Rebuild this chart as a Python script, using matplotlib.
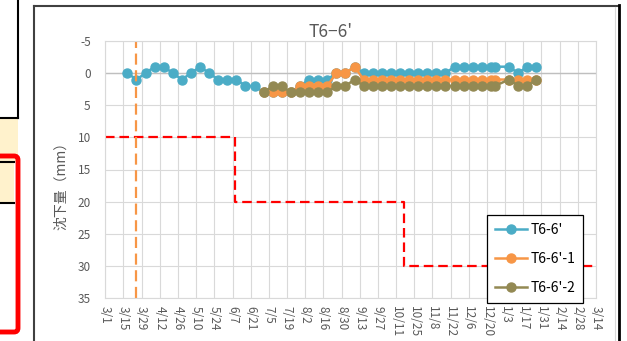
import matplotlib.pyplot as plt
from matplotlib.patches import Rectangle, FancyBboxPatch
import numpy as np
import pandas as pd

plt.rcParams['font.family'] = ['Noto Sans CJK JP', 'DejaVu Sans']
plt.rcParams['axes.unicode_minus'] = False

# measurement dates
dates = pd.to_datetime([
    '2021-03-18', '2021-03-25', '2021-04-01', '2021-04-08', '2021-04-15', '2021-04-22',
    '2021-04-29', '2021-05-06', '2021-05-13', '2021-05-20', '2021-05-27', '2021-06-03',
    '2021-06-10', '2021-06-17', '2021-06-24', '2021-07-01', '2021-07-08', '2021-07-15',
    '2021-07-22', '2021-07-29', '2021-08-05', '2021-08-12', '2021-08-19', '2021-08-26',
    '2021-09-02', '2021-09-09', '2021-09-16', '2021-09-23', '2021-09-30', '2021-10-07',
    '2021-10-14', '2021-10-21', '2021-10-28', '2021-11-04', '2021-11-11', '2021-11-18',
    '2021-11-25', '2021-12-02', '2021-12-09', '2021-12-16', '2021-12-23', '2021-12-26',
    '2022-01-06', '2022-01-13', '2022-01-20', '2022-01-27',
])

# settlement (mm), positive = downward
t66 = [0, 1, 0, -1, -1, 0, 1, 0, -1, 0, 1, 1,
       1, 2, 2, 3, 3, 3, 3, 2, 1, 1, 1, 0,
       0, -1, 0, 0, 0, 0, 0, 0, 0, 0, 0, 0,
       -1, -1, -1, -1, -1, -1, -1, 0, -1, -1]
t66_1 = [None, None, None, None, None, None, None, None, None, None, None, None,
         None, None, None, 3, 3, 3, 3, 2, 2, 2, 2, 0,
         0, -1, 1, 1, 1, 1, 1, 1, 1, 1, 1, 1,
         1, 1, 1, 1, 1, 1, 1, 1, 1, 1]
t66_2 = [None, None, None, None, None, None, None, None, None, None, None, None,
         None, None, None, 3, 2, 2, 3, 3, 3, 3, 3, 2,
         2, 1, 2, 2, 2, 2, 2, 2, 2, 2, 2, 2,
         2, 2, 2, 2, 2, 2, 1, 2, 2, 1]

# management limit steps
limit_dates = pd.to_datetime(['2021-03-01', '2021-06-09', '2021-06-09',
                              '2021-10-17', '2021-10-17', '2022-03-14'])
limit_values = [10, 10, 20, 20, 30, 30]

start_date = pd.Timestamp('2021-03-25')

tick_labels = ['3/1', '3/15', '3/29', '4/12', '4/26', '5/10', '5/24', '6/7',
               '6/21', '7/5', '7/19', '8/2', '8/16', '8/30', '9/13', '9/27',
               '10/11', '10/25', '11/8', '11/22', '12/6', '12/20', '1/3', '1/17',
               '1/31', '2/14', '2/28', '3/14']

W, H = 627, 341
fig = plt.figure(figsize=(W / 100, H / 100), dpi=100)

# sheet background (cells, frame) in pixel coordinates
bg = fig.add_axes([0, 0, 1, 1])
bg.set_xlim(0, W)
bg.set_ylim(H, 0)
bg.axis('off')
bg.add_patch(Rectangle((0, 118), 17.5, 44, facecolor='#FFF2CC', edgecolor='none'))
bg.add_patch(Rectangle((0, 162), 14, 41, facecolor='#FFF2CC', edgecolor='none'))
bg.plot([17.5, 17.5], [0, 118], color='black', lw=1.5)
bg.plot([0, 18], [118, 118], color='black', lw=1.5)
bg.plot([0, 14], [162, 162], color='black', lw=1.5)
bg.plot([0, 14], [203, 203], color='black', lw=1.5)
bg.add_patch(FancyBboxPatch((-20, 156), 38, 176, boxstyle='round,pad=0,rounding_size=4',
                            facecolor='none', edgecolor='#FF0000', lw=3.5))
bg.add_patch(Rectangle((33.5, 5.5), 584, 340, facecolor='white', edgecolor='none'))
bg.plot([33.5, 33.5], [5.5, H], color='#404040', lw=1.5)
bg.plot([33.5, 618], [5.5, 5.5], color='#404040', lw=1.5)
bg.plot([615, 615], [6.5, H], color='#D9D9D9', lw=0.8)
bg.plot([618.5, 618.5], [4.8, H], color='black', lw=2)

ax = fig.add_axes([105.3 / W, 43 / H, 490.7 / W, 257 / H])
ax.patch.set_visible(False)

t66 = np.array(t66, dtype=float)
t66_1 = np.array(t66_1, dtype=float)
t66_2 = np.array(t66_2, dtype=float)

ax.plot(dates, t66, color='#4BACC6', marker='o', ms=6.5, lw=1.8, label="T6-6'")
ax.plot(dates, t66_1, color='#F79646', marker='o', ms=6.5, lw=1.8, label="T6-6'-1")
ax.plot(dates, t66_2, color='#938953', marker='o', ms=6.5, lw=1.8, label="T6-6'-2")

ax.plot(limit_dates, limit_values, color='#FF0000', lw=1.6, ls=(0, (4.3, 2.2)))
ax.axvline(start_date, color='#F79646', lw=1.6, ls=(0, (5, 2.5)))

ax.axhline(0, color='#BFBFBF', lw=1, zorder=1)

ax.set_ylim(35, -5)
ax.set_yticks(np.arange(-5, 40, 5))
ticks = pd.date_range('2021-03-01', '2022-03-14', freq='14D')
ax.set_xlim(ticks[0], ticks[-1])
ax.set_xticks(ticks)
ax.set_xticklabels(tick_labels)

ax.grid(color='#D9D9D9', lw=0.8)
ax.set_axisbelow(True)
for s in ax.spines.values():
    s.set_color('#D9D9D9')
    s.set_linewidth(0.8)

ax.tick_params(axis='both', length=0, labelsize=8.5, labelcolor='#595959')
ax.tick_params(axis='y', pad=10.5)
ax.tick_params(axis='x', pad=5.8, labelrotation=270)

ax.set_ylabel('沈下量（mm）', fontsize=10, color='#595959')
ax.yaxis.set_label_coords(-0.075, 0.45)

fig.text(331 / W, 1 - 32 / H, "T6−6'", ha='center', va='center', fontsize=12.5, color='#595959')

leg = ax.legend(loc='upper left', bbox_to_anchor=(487 / W, 1 - 215 / H),
                bbox_transform=fig.transFigure, frameon=True, fancybox=False,
                edgecolor='black', fontsize=10, labelspacing=1.1, handlelength=2.3,
                handletextpad=0.3, borderpad=0.55, borderaxespad=0)
leg.get_frame().set_linewidth(0.9)
leg.get_frame().set_alpha(1)

fig.savefig('out.png', dpi=100)
